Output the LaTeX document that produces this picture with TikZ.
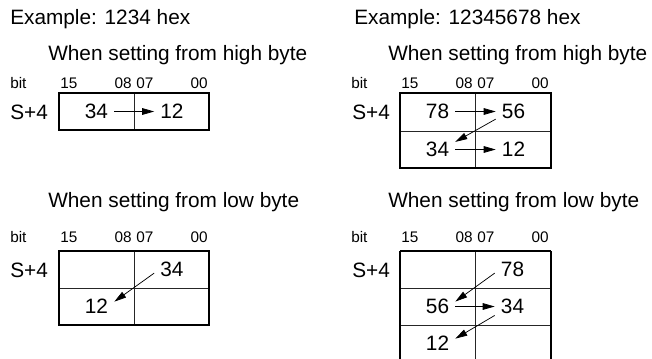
\documentclass[tikz,border=0pt]{standalone}
\usepackage{fontspec}
\setmainfont{Liberation Sans}
\usetikzlibrary{arrows.meta}
\tikzset{
  big/.style={font=\fontsize{15.6pt}{18pt}\selectfont, inner sep=0pt},
  small/.style={font=\fontsize{11.5pt}{13pt}\selectfont, inner sep=0pt},
  num/.style={font=\fontsize{15.6pt}{18pt}\selectfont, inner xsep=4.5pt, inner ysep=0pt},
  outer/.style={draw=black, line width=1.3pt},
  inner/.style={draw=black!85, line width=0.65pt},
  arr/.style={draw=black, line width=0.55pt, -{Triangle[length=9pt,width=5pt]}}
}
\begin{document}
\begin{tikzpicture}[x=0.75pt,y=-0.75pt]
\useasboundingbox (0,0) rectangle (652,358);
\clip (0,0) rectangle (652,358);
\fill[white] (0,0) rectangle (652,358);

% headings
\node[big, anchor=base west] (ex1) at (10,24) {Example: 1234 hex};
\node[big, anchor=base west] (ex2) at (354,24) {Example: 12345678 hex};
\node[big, anchor=base west] (h1) at (48,60) {When setting from high byte};
\node[big, anchor=base west] (h2) at (388,60) {When setting from high byte};
\node[big, anchor=base west] (l1) at (48,207) {When setting from low byte};
\node[big, anchor=base west] (l2) at (388,207) {When setting from low byte};

% bit labels
\foreach \nm/\bx/\by in {a/59/88, b/400/88, c/59/242, d/400/242}{
  \pgfmathsetmacro{\bl}{\bx-49}
  \pgfmathsetmacro{\dv}{\bx+75}
  \pgfmathsetmacro{\br}{\bx+150}
  \node[small, anchor=base west] (bit\nm) at (\bl,\by) {bit};
  \node[small, anchor=base west] (b15\nm) at (\bx+1,\by) {15};
  \node[small, anchor=base east] (b08\nm) at (\dv-2,\by) {08};
  \node[small, anchor=base west] (b07\nm) at (\dv+2,\by) {07};
  \node[small, anchor=base east] (b00\nm) at (\br-1,\by) {00};
}

% S+4 labels
\node[big, anchor=west] (s1) at (10,112) {S+4};
\node[big, anchor=west] (s2) at (352,112) {S+4};
\node[big, anchor=west] (s3) at (10,270) {S+4};
\node[big, anchor=west] (s4) at (352,270) {S+4};

% box 1
\draw[inner] (134,93) -- (134,130);
\draw[outer] (59,93) rectangle (209,130);
% box 2
\draw[inner] (475,93) -- (475,168);
\draw[inner] (400,131) -- (551,131);
\draw[outer] (400,93) rectangle (551,168);
% box 3
\draw[inner] (134,251) -- (134,325);
\draw[inner] (59,288) -- (209,288);
\draw[outer] (59,251) rectangle (209,325);
% box 4
\draw[inner] (475,251) -- (475,362);
\draw[inner] (400,288) -- (551,288);
\draw[inner] (400,325) -- (551,325);
\draw[outer] (400,251) -- (400,362);
\draw[outer] (551,251) -- (551,362);
\draw[outer] (400,251) -- (551,251);

% numbers box 1
\node[num] (a34) at (96.5,111.5) {34};
\node[num] (a12) at (172,111.5) {12};
% box 2
\node[num] (b78) at (437.5,111.5) {78};
\node[num] (b56) at (513.5,111.5) {56};
\node[num] (b34) at (437.5,149.5) {34};
\node[num] (b12) at (513.5,149.5) {12};
% box 3
\node[num] (c34) at (172,269.5) {34};
\node[num] (c12) at (96.5,306.5) {12};
% box 4
\node[num] (d78) at (512.5,269.5) {78};
\node[num] (d56) at (437.5,306.5) {56};
\node[num] (d34) at (512.5,306.5) {34};
\node[num] (d12) at (437.5,343.5) {12};

% arrows
\draw[arr] (a34.east) -- (a12.west);
\draw[arr] (b78.east) -- (b56.west);
\draw[arr] (b56.south west) -- (b34.north east);
\draw[arr] (b34.east) -- (b12.west);
\draw[arr] ([yshift=3pt]c34.south west) -- ([yshift=-2pt]c12.north east);
\draw[arr] ([yshift=3pt]d78.south west) -- ([yshift=-2pt]d56.north east);
\draw[arr] (d56.east) -- (d34.west);
\draw[arr] ([yshift=-1pt]d34.south west) -- ([yshift=-2pt]d12.north east);
\end{tikzpicture}
\end{document}
